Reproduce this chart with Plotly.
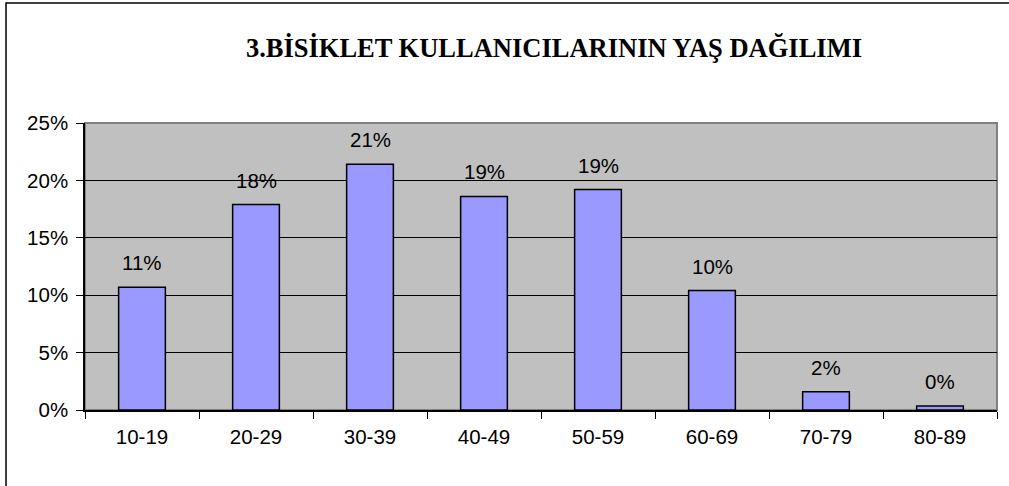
import plotly.graph_objects as go

# Age groups and share of bicycle users in each
age_groups = ["10-19", "20-29", "30-39", "40-49", "50-59", "60-69", "70-79", "80-89"]
shares = [0.107, 0.179, 0.214, 0.186, 0.192, 0.104, 0.016, 0.0035]

y_ticks = [0, 0.05, 0.10, 0.15, 0.20, 0.25]

fig = go.Figure()
fig.add_trace(go.Bar(
    x=age_groups,
    y=shares,
    marker=dict(color="#9999FF", line=dict(color="#000000", width=1.5)),
    hoverinfo="x+y",
))

# Value labels above bars
for g, v in zip(age_groups, shares):
    fig.add_annotation(
        x=g, y=v, text=f"{v:.0%}", showarrow=False,
        yanchor="bottom", yshift=11,
        font=dict(family="Liberation Sans, Arial, sans-serif", size=20.5, color="#000000"),
    )

# Plot-area frame (grey top/right) and outer chart frame
fig.add_shape(type="rect", xref="paper", yref="paper", x0=0, x1=1, y0=0, y1=1,
              line=dict(color="#808080", width=2), layer="below")
fig.add_shape(type="rect", xref="paper", yref="paper", x0=-0.0866, x1=1.2, y0=-0.5, y1=1.418,
              line=dict(color="#000000", width=1.5), layer="below")

fig.update_layout(
    width=1009, height=486,
    margin=dict(l=85, r=12, t=123, b=76),
    paper_bgcolor="#FFFFFF",
    plot_bgcolor="#C0C0C0",
    bargap=0.59,
    showlegend=False,
    title=dict(
        text="<b>3.BİSİKLET KULLANICILARININ YAŞ DAĞILIMI</b>",
        x=0.549, xanchor="center", y=0.902, yanchor="middle",
        font=dict(family="Liberation Serif, Times New Roman, serif", size=26.5, color="#000000"),
    ),
    font=dict(family="Liberation Sans, Arial, sans-serif", size=20.5, color="#000000"),
)

fig.update_xaxes(
    type="category", tickson="boundaries",
    ticks="outside", ticklen=7, tickcolor="#000000", tickwidth=1,
    showline=True, linecolor="#000000", linewidth=1.5,
    showgrid=False, ticklabelstandoff=8,
    tickfont=dict(size=20.5),
)
fig.update_yaxes(
    range=[0, 0.25], tickvals=y_ticks, tickformat=".0%",
    ticks="outside", ticklen=7, tickcolor="#000000", tickwidth=1,
    showline=True, linecolor="#000000", linewidth=1.5,
    showgrid=True, gridcolor="#000000", gridwidth=1,
    zeroline=False, ticklabelstandoff=4,
    tickfont=dict(size=20.5),
)

fig.write_html("out.html")
